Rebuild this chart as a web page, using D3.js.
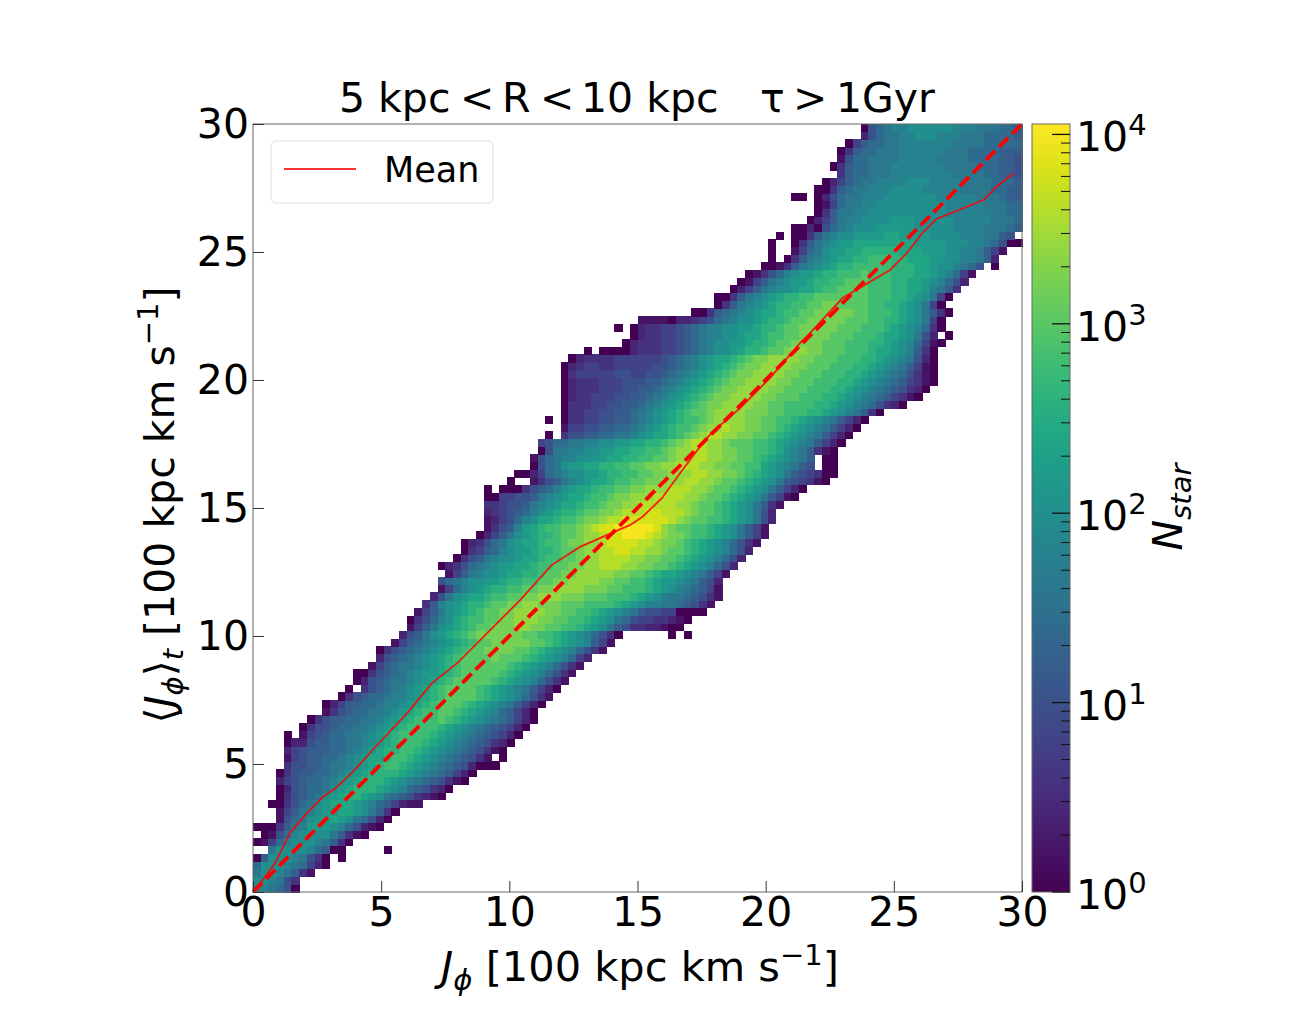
<!DOCTYPE html>
<html>
<head>
<meta charset="utf-8">
<script src="https://cdn.jsdelivr.net/npm/d3@7"></script>
<style>
    html, body { margin: 0; padding: 0; background: #fff; overflow: hidden; }
    text { font-family: "DejaVu Sans", sans-serif; fill: #000; }
</style>
</head>
<body>
<div id="chart"></div>
<script>
// histogram, 100 x 100 bins over 0-30 on both axes
// each row is one y bin (bottom to top), rowStart = first filled x bin
// each char is a level: 0-9 then a-k, count = 10^(level/5), "." = empty bin
var binCount = 100;
var levelChars = "0123456789abcdefghijk";

var rowStart = [
    0, 0, 0, 0, 0, 0, 0, 0, 0, 3,
    3, 2, 3, 3, 3, 3, 4, 4, 4, 4,
    4, 6, 7, 9, 9, 11, 12, 13, 13, 15,
    16, 16, 18, 19, 20, 20, 21, 22, 23, 24,
    24, 25, 24, 26, 27, 27, 29, 30, 30, 30,
    30, 30, 30, 33, 34, 36, 36, 37, 37, 38,
    40, 38, 40, 40, 40, 40, 40, 40, 40, 41,
    43, 48, 49, 47, 50, 57, 60, 60, 62, 63,
    64, 66, 67, 67, 67, 68, 70, 72, 73, 73,
    70, 73, 74, 76, 75, 76, 76, 77, 79, 79
];

var rowCells = [
    "998750",
    "aa9853",
    "8aa98631",
    "7aaa987420",
    "06aaa98530.0",
    "..8aaaa97600.....0",
    "01479aaa98630",
    ".01579aaaa86310",
    "0003689bbba975210",
    "1578abbcba87520",
    "14689abbccba8630",
    "003578abcccba9764211",
    "035678abcddcba87653210",
    "0256778abcdddcba9765320",
    "24567789abcdddcba98765310",
    "035667789abcddddcba9876420",
    "355667889abcdeedcba987652000",
    "145667789abccdeedcba9876531.0",
    "2456667789abcddeedcba98765310",
    "02256677889abcdeeedcba98765320",
    "0.145677889abcdeeeedcba98765420",
    "0355677889abcdeeeedcba98765420",
    "0356677889abcdeeefedcba9876420",
    "135677889abcdeeffedcba976420",
    "0246677899abcdefffedcba986420",
    "035677899abcdeffffedcba97531",
    "0.356789abcdeffffedcba986420",
    "02567889abcdefffffedcba97531",
    "00356789abbcdefffffedcba97531",
    "1467889abcdeffffffedcba97531",
    "256789abcdeffffgfffedcba9742",
    "0356789abcdeffggggffedcba97531",
    "146789abcdeffgggggffedcba9641",
    "2568abcdefggggggffeedcba97530......0.0",
    "1468abcdeffggghhggffeedcba8653322100",
    "03579acdeeffgghhhggffeedcba8754433210",
    "1468abcdeffgghhhhggffeedcba98655440000",
    "369abcddeffgghhgggfffeeeedcba99887 6531",
    "258abccdeeffgghhhgggfffeeedcba98876531",
    "1479abcddeeffgghhhhgggffeeedcba987641",
    "5789aabbcddeeffgghhhhggffeedcbba98652",
    "14689aabccddeffgghhhhhggffedccba98641",
    "0235789abbccdeeffgghhiiihhggffedcba9752",
    "035689aabccdeeffghhiiiihhggffedcba9752",
    "034679abbcddeffghhiijjiihhgffedcba9752",
    "023578abccdeefgghhijjjjiihggfedcba97531",
    "02468abcddeffghhijjkkkjihggfeedcba8641",
    "13569bcdeeffghijjkkkkkjhgffeedcba8641",
    "124579accdeefgghiijjjjjjihgffeedcba852",
    "2345679abcddeffgghiiijjiiihgffedcba852",
    "33455689abccdeefgghhiiiiihhgffedcba8631",
    "004455689abccdeefgghhhiiiihhgffedcba86410",
    "0.00035679abccdeeffgghhhiiihhgffedcba86420",
    "0..135689abccdeeffgghhhiihhgffedcba8654310",
    "0024789aabbcddeeffgghhhiihhggfedcba8654300",
    "0578abbccddeeffgghhiiihhggffeecba9865.00",
    "157899aabbccddeeffghhiihhggffedcba986.00",
    "058899aabbccddeefghhiihhggffeedca986310",
    "45778899aabbccddefghiihhgfffeedcba986420",
    "0.3556677889abccdefghiihhggffedcba986420",
    "14455667789abcdeefghhihhggffedcba986420",
    "0.033445566789abcdeefghhhhggffeedcba986420",
    "033445566789abcdeffghhhhgggffeeeddcba98630",
    "0333445566789abcdefgghhhhggffeeeeddcba9875320",
    "02334445566789abcdefgghhhhggfffeeeddcba98764310",
    "023334445566789abcdefgghhhhggfffeeeddcba98765320",
    "0233344455566789abcdefgghhhhggfffeeeddcba98764310",
    "03444445544556789abcdefgghhhhggfffeeeddcba9875310",
    "023443344444556789abcdefgghhhhggfffeeeddcba986410",
    "02333344444456789abccdefgghhhhggfffeeeddcba98520",
    "0.000023334456789aabcddeffghhggfffeeedccba9630",
    "023334456789aabbcddeffggggfffeeeddcba97410",
    "023344567899aabccdeeffggggfffeeedccba852.0",
    "0.023344567899aabbcddeffgggggfffeeedcba9730",
    "1111022345789aabcddeffgggggfffeeddcba840",
    "0036789abccdeeffgggggffeeedcba8630",
    "03689abcddeeffggffffeeddcba840",
    "003689abcddeefffffffeeeddcba840",
    "024689aabccdeeffffeeeddccb9863",
    "014689abbcddeefffeeeddccba9752",
    "013579abbcddeeefeeedddccba9741",
    "0013689abcddeeeeedddccbaa9875.0",
    "0.03689abccddeeeddcccbbaa99862",
    "0..1478abbccdddddcccbbbaa998641",
    "0..03689abbccccccccbbbbaaa9987500",
    "0.003689aabbbbccbbbbaaaa9998865.",
    "00205789aaabbbbbaaaaa999988876",
    "0246899aaaabbbaaaaa999998887",
    "0368899aaaaaaaaaa9999998877",
    "01478899aaaaaaaaa9999988877",
    "00.025788999aaaaaaa99999888766",
    "0036788999aaaa9999988887766",
    "02467889999aaa999988887776",
    "367788899999999888877665",
    "0367788899999998888777665",
    "157788889999988887777665",
    "036778889999998887777666",
    "04677889999999888877777",
    "2578899aaa99988877776",
    "057899aaaaaa999888776"
];

var xTicks = [0, 5, 10, 15, 20, 25, 30];
var yTicks = [0, 5, 10, 15, 20, 25, 30];
var cbarTicks = [1, 10, 100, 1000, 10000];
var cbarExponents = ["0", "1", "2", "3", "4"];
var cbarMinor = [2, 3, 4, 5, 6, 7, 8, 9];
var cbarMax = 11350;

// red solid line
var meanX = [0, 0.4, 0.86, 1.44, 2.03, 2.68, 3.22, 3.85, 4.9, 6.05, 6.97, 8.0, 9.25, 10.42, 11.65, 12.76, 13.8, 14.7, 15.2, 15.95, 16.66, 17.44, 17.9, 19.0, 20.17, 21.34, 21.73, 23.0, 24.85, 25.5, 26.1, 26.67, 28.5, 29.0, 29.67];
var meanY = [0, 0.5, 1.13, 2.3, 3.0, 3.67, 4.06, 4.64, 5.8, 7.03, 8.15, 8.97, 10.23, 11.4, 12.77, 13.48, 13.94, 14.33, 14.66, 15.38, 16.36, 17.4, 17.95, 18.9, 20.08, 21.44, 21.83, 23.2, 24.3, 24.95, 25.73, 26.29, 27.03, 27.55, 28.07];
var lineX = [0, 30];

var width = 1316, height = 1019;
var margin = { top: 124, left: 253 };
var plotW = 769, plotH = 768;

var svg = d3.select("#chart").append("svg")
    .attr("width", width)
    .attr("height", height);

var g = svg.append("g")
    .attr("transform", "translate(" + margin.left + "," + margin.top + ")");

var x = d3.scaleLinear().domain([0, 30]).range([0, plotW]);
var y = d3.scaleLinear().domain([0, 30]).range([plotH, 0]);
var color = d3.scaleLog().domain([1, cbarMax]).range([0, 1]);

// unpack the rows into cells
var cells = [];
rowCells.forEach(function(row, j) {
    row.replace(/ /g, "").split("").forEach(function(c, k) {
        var level = levelChars.indexOf(c);
        if (level >= 0) {
            cells.push({ i: rowStart[j] + k, j: j, count: Math.pow(10, level / 5) });
        }
    });
});

var binSize = 30 / binCount;

g.selectAll(".cell")
    .data(cells)
    .enter().append("rect")
    .attr("class", "cell")
    .attr("x", function(d) { return x(d.i * binSize); })
    .attr("y", function(d) { return y((d.j + 1) * binSize); })
    .attr("width", x(binSize) - x(0) + 0.5)
    .attr("height", y(0) - y(binSize) + 0.5)
    .attr("fill", function(d) { return d3.interpolateViridis(color(d.count)); })
    .attr("shape-rendering", "crispEdges");

// identity line
g.append("line")
    .attr("x1", x(lineX[0])).attr("y1", y(lineX[0]))
    .attr("x2", x(lineX[1])).attr("y2", y(lineX[1]))
    .attr("stroke", "#f00")
    .attr("stroke-width", 3.8)
    .attr("stroke-dasharray", "13,5.5");

var meanLine = d3.line()
    .x(function(d) { return x(d); })
    .y(function(d, i) { return y(meanY[i]); });

g.append("path")
    .attr("d", meanLine(meanX))
    .attr("fill", "none")
    .attr("stroke", "#f00")
    .attr("stroke-opacity", 0.85)
    .attr("stroke-width", 1.8);

// frame
g.append("rect")
    .attr("width", plotW)
    .attr("height", plotH)
    .attr("fill", "none")
    .attr("stroke", "#666")
    .attr("stroke-width", 1);

var tickFont = 41;

var xAxis = g.append("g")
    .attr("transform", "translate(0," + plotH + ")")
    .call(d3.axisBottom(x).tickValues(xTicks).tickSizeInner(-11).tickSizeOuter(0).tickPadding(5));
var yAxis = g.append("g")
    .call(d3.axisLeft(y).tickValues(yTicks).tickSizeInner(-11).tickSizeOuter(0).tickPadding(4));

[xAxis, yAxis].forEach(function(a) {
    a.select(".domain").remove();
    a.selectAll("line").attr("stroke", "#333").attr("stroke-width", 1);
    a.selectAll("text").style("font-size", tickFont + "px").style("font-family", "DejaVu Sans");
});

// axis titles
var xLabel = svg.append("text")
    .attr("x", 640)
    .attr("y", 981)
    .attr("text-anchor", "middle")
    .style("font-size", "41.5px");
xLabel.append("tspan").attr("font-style", "italic").text("J");
xLabel.append("tspan").attr("font-style", "italic").attr("dy", 9).style("font-size", "29px").text("ϕ");
xLabel.append("tspan").attr("dy", -9).text(" [100 kpc km s");
xLabel.append("tspan").attr("dy", -16).style("font-size", "29px").text("−1");
xLabel.append("tspan").attr("dy", 16).text("]");

var yLabel = svg.append("text")
    .attr("transform", "translate(174,505) rotate(-90)")
    .attr("text-anchor", "middle")
    .style("font-size", "41px");
yLabel.append("tspan").text("⟨");
yLabel.append("tspan").attr("font-style", "italic").text("J");
yLabel.append("tspan").attr("font-style", "italic").attr("dy", 9).style("font-size", "29px").text("ϕ");
yLabel.append("tspan").attr("dy", -9).text("⟩");
yLabel.append("tspan").attr("font-style", "italic").attr("dy", 9).style("font-size", "29px").text("t");
yLabel.append("tspan").attr("dy", -9).text(" [100 kpc km s");
yLabel.append("tspan").attr("dy", -16).style("font-size", "29px").text("−1");
yLabel.append("tspan").attr("dy", 16).text("]");

// title, mathtext spacing so each piece is placed on its own
var titleParts = ["5 kpc", "<", "R", "<", "10 kpc", "τ", ">", "1Gyr"];
var titleX = [339, 460, 502, 540, 581, 760, 793, 836];
svg.selectAll(".title-part")
    .data(titleParts)
    .enter().append("text")
    .attr("class", "title-part")
    .attr("x", function(d, i) { return titleX[i]; })
    .attr("y", 112)
    .style("font-size", "41px")
    .text(function(d) { return d; });

// legend
var legend = svg.append("g");
legend.append("rect")
    .attr("x", 271).attr("y", 141)
    .attr("width", 222).attr("height", 62)
    .attr("rx", 5)
    .attr("fill", "#fff")
    .attr("stroke", "#ddd")
    .attr("stroke-width", 1);
legend.append("line")
    .attr("x1", 284).attr("x2", 356)
    .attr("y1", 169).attr("y2", 169)
    .attr("stroke", "#f00")
    .attr("stroke-opacity", 0.8)
    .attr("stroke-width", 1.8);
legend.append("text")
    .attr("x", 384)
    .attr("y", 182)
    .style("font-size", "35px")
    .text("Mean");

// colorbar
var cbar = { x: 1032, w: 38 };
var cbarScale = d3.scaleLog().domain([1, cbarMax]).range([892, 124]);

var defs = svg.append("defs");
var grad = defs.append("linearGradient")
    .attr("id", "viridis")
    .attr("x1", 0).attr("x2", 0).attr("y1", 1).attr("y2", 0);
d3.range(0, 1.001, 0.05).forEach(function(t) {
    grad.append("stop")
        .attr("offset", t)
        .attr("stop-color", d3.interpolateViridis(t));
});

svg.append("rect")
    .attr("x", cbar.x).attr("y", 124)
    .attr("width", cbar.w).attr("height", 768)
    .attr("fill", "url(#viridis)")
    .attr("stroke", "#666")
    .attr("stroke-width", 1);

var minorValues = [];
cbarTicks.forEach(function(t) {
    cbarMinor.forEach(function(m) {
        if (t * m < cbarMax) minorValues.push(t * m);
    });
});

svg.selectAll(".minor")
    .data(minorValues)
    .enter().append("line")
    .attr("class", "minor")
    .attr("x1", cbar.x + cbar.w - 9).attr("x2", cbar.x + cbar.w)
    .attr("y1", function(d) { return cbarScale(d); })
    .attr("y2", function(d) { return cbarScale(d); })
    .attr("stroke", "#111")
    .attr("stroke-width", 1);

svg.selectAll(".major")
    .data(cbarTicks)
    .enter().append("line")
    .attr("class", "major")
    .attr("x1", cbar.x + cbar.w - 18).attr("x2", cbar.x + cbar.w)
    .attr("y1", function(d) { return cbarScale(d); })
    .attr("y2", function(d) { return cbarScale(d); })
    .attr("stroke", "#111")
    .attr("stroke-width", 1.3);

var cbarLabels = svg.selectAll(".cbar-label")
    .data(cbarTicks)
    .enter().append("text")
    .attr("class", "cbar-label")
    .attr("x", 1076)
    .attr("y", function(d) { return cbarScale(d) + 17; })
    .style("font-size", tickFont + "px");
cbarLabels.append("tspan").text("10");
cbarLabels.append("tspan")
    .attr("dy", -16)
    .style("font-size", "29px")
    .text(function(d, i) { return cbarExponents[i]; });

var cbarTitle = svg.append("text")
    .attr("transform", "translate(1182,507) rotate(-90)")
    .attr("text-anchor", "middle")
    .style("font-size", "41px");
cbarTitle.append("tspan").attr("font-style", "italic").text("N");
cbarTitle.append("tspan").attr("font-style", "italic").attr("dy", 9).style("font-size", "29px").text("star");
</script>
</body>
</html>
